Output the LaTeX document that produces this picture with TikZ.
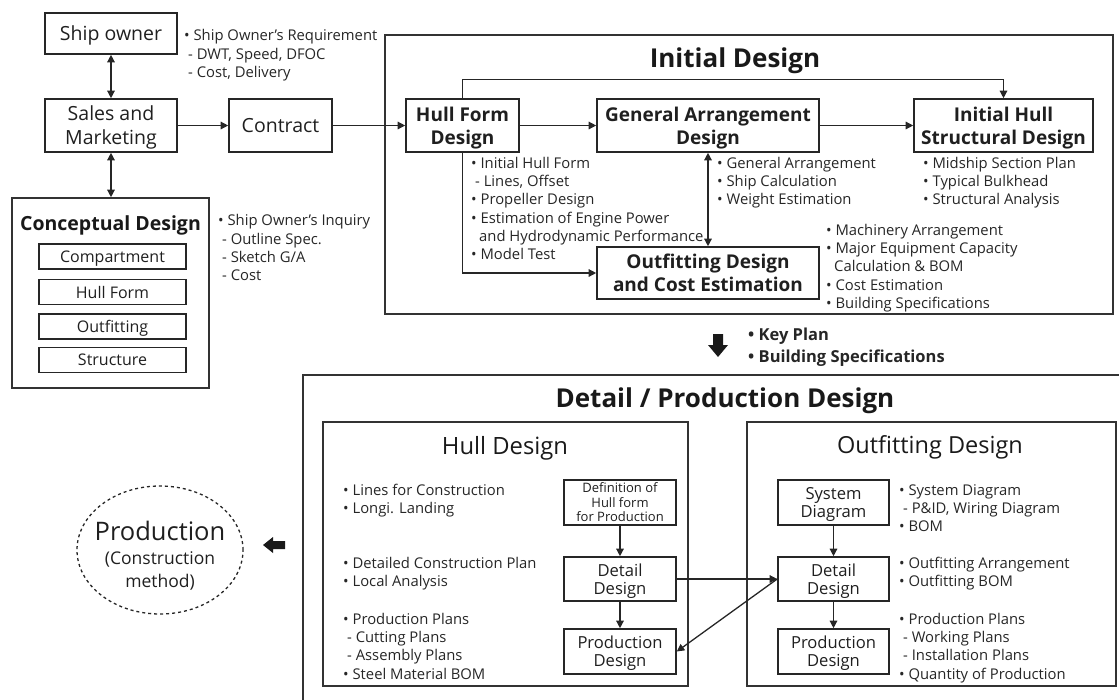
\documentclass[tikz,border=0pt]{standalone}
\usepackage{fontspec}
\setmainfont{Open Sans}
\usetikzlibrary{arrows.meta,shapes.geometric}
\begin{document}
\begin{tikzpicture}[x=1pt,y=-1pt,
  box/.style={draw=black!85, line width=1.6pt, inner sep=1pt, align=center, text=black!88, text depth=0pt},
  frame/.style={draw=black!80, line width=1.6pt, inner sep=0pt},
  title/.style={text=black!90, text depth=0pt, inner sep=0pt},
  note/.style={anchor=north west, align=left, inner sep=0pt, text=black!85, font=\fontsize{14.8}{18.2}\selectfont},
  big/.style={font=\fontsize{19.5}{24}\selectfont},
  bigb/.style={font=\bfseries\fontsize{19}{23}\selectfont},
  mid/.style={font=\fontsize{16}{17}\selectfont},
  det/.style={font=\fontsize{16.6}{18}\selectfont},
  arr/.style={-{Triangle[length=7.5pt,width=7.5pt]}, line width=1.3pt, draw=black!85},
  darr/.style={{Triangle[length=7.5pt,width=7.5pt]}-{Triangle[length=7.5pt,width=7.5pt]}, line width=1.3pt, draw=black!85}
]
\useasboundingbox (0,0) rectangle (1119,699);

% ---------------- owner, sales, contract, concept ----------------
\node[box, big, minimum width=132, minimum height=41] (owner) at (111,33.5) {Ship owner};
\node[box, big, minimum width=132, minimum height=53] (sales) at (111,125.5) {Sales and\\Marketing};
\node[box, big, minimum width=103, minimum height=53] (contract) at (280.5,125.5) {Contract};
\node[note] (req) at (184,29.5) {• Ship Owner’s Requirement\\\hspace*{4pt}- DWT, Speed, DFOC\\\hspace*{4pt}- Cost, Delivery};

\node[frame, minimum width=197, minimum height=190] (concept) at (110.5,293) {};
\node[title, font=\bfseries\fontsize{19.5}{21}\selectfont] (concepttitle) at (110.5,223) {Conceptual Design};
\node[box, mid, minimum width=147, minimum height=25] (comp) at (112.5,256.5) {Compartment};
\node[box, mid, minimum width=147, minimum height=25] (chull) at (112.5,292) {Hull Form};
\node[box, mid, minimum width=147, minimum height=25] (coutf) at (112.5,326.5) {Outfitting};
\node[box, mid, minimum width=147, minimum height=25] (cstruct) at (112.5,360) {Structure};
\node[note] (inq) at (218,214.5) {• Ship Owner’s Inquiry\\\hspace*{4pt}- Outline Spec.\\\hspace*{4pt}- Sketch G/A\\\hspace*{4pt}- Cost};

\draw[darr] (owner.south) -- (sales.north);
\draw[darr] (sales.south) -- (sales.south |- concept.north);
\draw[arr] (sales) -- (contract);

% ---------------- initial design ----------------
\node[frame, minimum width=728, minimum height=279] (initial) at (749,174.5) {};
\node[title, font=\bfseries\fontsize{26}{30}\selectfont] (initialtitle) at (735,58) {Initial Design};

\node[box, bigb, minimum width=113, minimum height=53] (hull) at (462.5,125.5) {Hull Form\\Design};
\node[box, bigb, minimum width=222, minimum height=53] (ga) at (708,125.5) {General Arrangement\\Design};
\node[box, bigb, minimum width=179, minimum height=53] (ihsd) at (1003.5,125.5) {Initial Hull\\Structural Design};
\node[box, bigb, minimum width=222, minimum height=52] (ocost) at (708,273) {Outfitting Design\\and Cost Estimation};

\draw[arr] (contract) -- (hull);
\draw[arr] (hull) -- (ga);
\draw[arr] (ga) -- (ihsd);
\draw[arr] (hull.north) -- ++(0,-19) -| (ihsd.north);
\draw[arr] (hull.south) |- (ocost.west);
\draw[darr] (ga.south) -- (ocost.north);

\node[note] (hullnote) at (471,157) {• Initial Hull Form\\\hspace*{4pt}- Lines, Offset\\• Propeller Design\\• Estimation of Engine Power\\\hspace*{8pt}and Hydrodynamic Performance\\• Model Test};
\node[note] (ganote) at (717,157) {• General Arrangement\\• Ship Calculation\\• Weight Estimation};
\node[note] (ihsdnote) at (923,157) {• Midship Section Plan\\• Typical Bulkhead\\• Structural Analysis};
\node[note] (ocostnote) at (826,224) {• Machinery Arrangement\\• Major Equipment Capacity\\\hspace*{8pt}Calculation \& BOM\\• Cost Estimation\\• Building Specifications};

% ---------------- hand-over to detail design ----------------
\coordinate (keytip) at (718,357);
\fill[black!90] (keytip) -- ++(-10,-12) -- ++(5,0) -- ++(0,-11) -- ++(10,0) -- ++(0,11) -- ++(5,0) -- cycle;
\node[note, font=\bfseries\fontsize{16.5}{22}\selectfont] (keynote) at (748,328) {• Key Plan\\• Building Specifications};

% ---------------- detail / production design ----------------
\node[frame, minimum width=822, minimum height=335] (detail) at (714,542.5) {};
\node[title, font=\bfseries\fontsize{26}{28}\selectfont] (detailtitle) at (725,398) {Detail / Production Design};

\node[frame, minimum width=365, minimum height=264] (hulld) at (505.5,554) {};
\node[title, font=\fontsize{23.8}{25}\selectfont] (hulldtitle) at (505,445) {Hull Design};
\node[frame, minimum width=369, minimum height=264] (outd) at (931.5,554) {};
\node[title, font=\fontsize{23.5}{25}\selectfont] (outdtitle) at (930,445) {Outfitting Design};

\node[box, font=\fontsize{13}{14.5}\selectfont, minimum width=112, minimum height=45] (hdef) at (620,502.5) {Definition of\\Hull form\\for Production};
\node[box, det, minimum width=112, minimum height=44] (hdet) at (620,579) {Detail\\Design};
\node[box, det, minimum width=112, minimum height=45] (hprod) at (620,651.5) {Production\\Design};

\node[box, det, minimum width=111, minimum height=45] (osys) at (833.5,502.5) {System\\Diagram};
\node[box, det, minimum width=111, minimum height=44] (odet) at (833.5,579) {Detail\\Design};
\node[box, det, minimum width=111, minimum height=45] (oprod) at (833.5,651.5) {Production\\Design};

\draw[arr] (hdef) -- (hdet);
\draw[arr] (hdet) -- (hprod);
\draw[arr] (osys) -- (odet);
\draw[arr] (odet) -- (oprod);
\draw[arr] (hdet.east) -- (odet.west);
\draw[arr] (odet.west) -- (hprod.east);

\node[note] (hn1) at (343,484) {• Lines for Construction\\• Longi. Landing};
\node[note] (hn2) at (343,557) {• Detailed Construction Plan\\• Local Analysis};
\node[note] (hn3) at (343,613) {• Production Plans\\\hspace*{4pt}- Cutting Plans\\\hspace*{4pt}- Assembly Plans\\• Steel Material BOM};

\node[note] (on1) at (899,484) {• System Diagram\\\hspace*{4pt}- P\&ID, Wiring Diagram\\• BOM};
\node[note] (on2) at (899,557) {• Outfitting Arrangement\\• Outfitting BOM};
\node[note] (on3) at (899,613) {• Production Plans\\\hspace*{4pt}- Working Plans\\\hspace*{4pt}- Installation Plans\\• Quantity of Production};

% ---------------- production ----------------
\node[draw=black!85, dashed, line width=1.3pt, ellipse, minimum width=166, minimum height=128, inner sep=0pt] (prod) at (160,550) {};
\node[align=center, inner sep=0pt, text=black!88, font=\fontsize{17.5}{23}\selectfont] (prodtext) at (160,556)
  {{\fontsize{25.5}{27}\selectfont Production}\\[1pt](Construction\\method)};
\coordinate (prodtip) at (263,545);
\fill[black!90] (prodtip) -- ++(10,-8) -- ++(0,4) -- ++(12,0) -- ++(0,8) -- ++(-12,0) -- ++(0,4) -- cycle;
\end{tikzpicture}
\end{document}
